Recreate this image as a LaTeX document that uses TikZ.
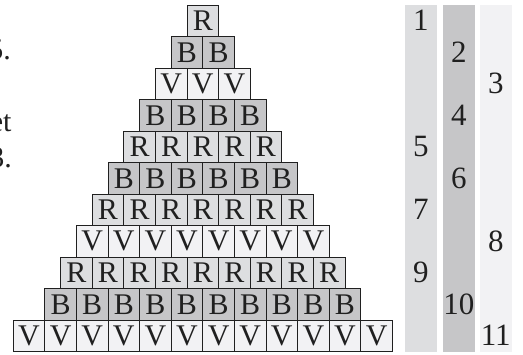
\documentclass[tikz,border=0pt]{standalone}
\usepackage{fontspec}
\setmainfont{Liberation Serif}
\usetikzlibrary{positioning}
\definecolor{ink}{RGB}{32,32,32}
\definecolor{rgrey}{RGB}{221,222,224}
\definecolor{bgrey}{RGB}{198,198,200}
\definecolor{vgrey}{RGB}{242,242,244}
\tikzset{
  every picture/.style={color=ink, x=1pt, y=-1pt},
  cell/.style={draw=ink, line width=0.9pt, minimum width=31.6pt, minimum height=31.5pt, inner sep=0pt, font=\fontsize{30}{30}\selectfont},
  strip/.style={minimum width=31.7pt, minimum height=346.7pt, inner sep=0pt, anchor=north},
  num/.style={font=\fontsize{31}{31}\selectfont, text=ink, inner sep=0pt},
  cut/.style={font=\fontsize{30}{30}\selectfont, text=ink, anchor=base east, inner sep=0pt},
}

\begin{document}
\begin{tikzpicture}
  \useasboundingbox (0,0) rectangle (523,355);
  \clip (0,0) rectangle (523,355);
  % cropped text of the page on the left
  \node[cut] (t5) at (11,60) {5.};
  \node[cut] (tet) at (11.7,131.7) {et};
  \node[cut] (t3) at (12,167.7) {3.};
  % the pyramid
  \foreach \row/\n/\k/\col in {1/1/R/rgrey, 2/2/B/bgrey, 3/3/V/vgrey, 4/4/B/bgrey, 5/5/R/rgrey, 6/6/B/bgrey, 7/7/R/rgrey, 8/8/V/vgrey, 9/9/R/rgrey, 10/10/B/bgrey, 11/12/V/vgrey} {
    \foreach \c in {1,...,\n} {
      \pgfmathsetmacro{\cx}{202.8+(\c-(\n+1)/2)*31.6}
      \pgfmathsetmacro{\cy}{5+(\row-0.5)*31.5}
      \node[cell, fill=\col] (c\row-\c) at (\cx,\cy) {\k};
    }
  }
  % the three columns
  \node[strip, fill=rgrey] (s1) at (420.8,5) {};
  \node[strip, fill=bgrey] (s2) at (458.8,5) {};
  \node[strip, fill=vgrey] (s3) at (495.8,5) {};
  \node[num] (n1) at (s1 |- c1-1) {1};
  \node[num] (n5) at (s1 |- c5-1) {5};
  \node[num] (n7) at (s1 |- c7-1) {7};
  \node[num] (n9) at (s1 |- c9-1) {9};
  \node[num] (n2) at (s2 |- c2-1) {2};
  \node[num] (n4) at (s2 |- c4-1) {4};
  \node[num] (n6) at (s2 |- c6-1) {6};
  \node[num] (n10) at (s2 |- c10-1) {10};
  \node[num] (n3) at (s3 |- c3-1) {3};
  \node[num] (n8) at (s3 |- c8-1) {8};
  \node[num] (n11) at (s3 |- c11-1) {11};
\end{tikzpicture}
\end{document}
